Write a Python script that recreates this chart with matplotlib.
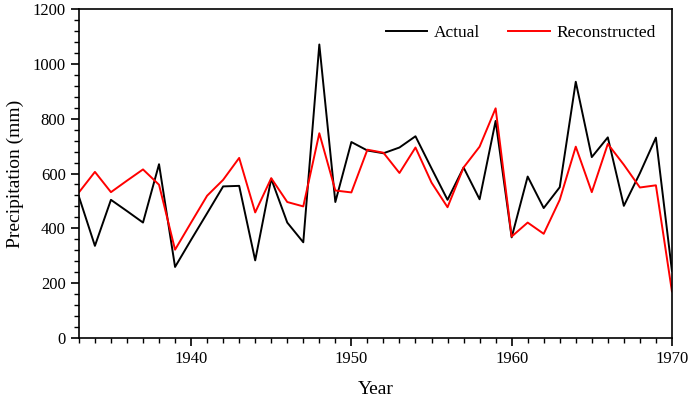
import matplotlib.pyplot as plt
from matplotlib.ticker import MultipleLocator

plt.rcParams['font.family'] = ['Liberation Serif', 'DejaVu Serif']

years = list(range(1933, 1971))

# Observed precipitation (mm)
actual = [516, 336, 504, 463, 421, 634, 259, 358, 455, 553, 555, 283, 581,
          421, 349, 1071, 496, 715, 684, 674, 695, 736, 619, 504, 622, 506,
          792, 367, 589, 474, 550, 935, 660, 732, 482, 601, 731, 245]

# Reconstructed precipitation (mm)
reconstructed = [531, 606, 532, 574, 615, 559, 322, 421, 519, 577, 657, 458, 583,
                 496, 480, 747, 538, 531, 687, 676, 602, 695, 567, 477, 622, 698,
                 838, 370, 421, 380, 504, 698, 532, 708, 632, 549, 557, 170]

fig = plt.figure(figsize=(6.92, 3.98), dpi=100)
ax = fig.add_axes([0.114, 0.151, 0.857, 0.826])

ax.plot(years, actual, color='black', lw=1.4, label='Actual')
ax.plot(years, reconstructed, color='red', lw=1.4, label='Reconstructed')

ax.set_xlim(1933, 1970)
ax.set_ylim(0, 1200)
ax.xaxis.set_major_locator(MultipleLocator(10))
ax.xaxis.set_minor_locator(MultipleLocator(1))
ax.yaxis.set_major_locator(MultipleLocator(200))
ax.yaxis.set_minor_locator(MultipleLocator(40))
ax.tick_params(which='major', direction='out', length=6, width=1.2, labelsize=12)
ax.tick_params(which='minor', direction='out', length=3.5, width=1.0)
for s in ax.spines.values():
    s.set_linewidth(1.2)

ax.set_xlabel('Year', fontsize=14, labelpad=10)
ax.set_ylabel('Precipitation (mm)', fontsize=14, labelpad=6)
ax.legend(loc='upper right', ncol=2, frameon=False, fontsize=12.5,
          handlelength=2.4, handletextpad=0.4, columnspacing=1.6,
          bbox_to_anchor=(1.0, 1.0))

fig.savefig('out.png', dpi=100)
